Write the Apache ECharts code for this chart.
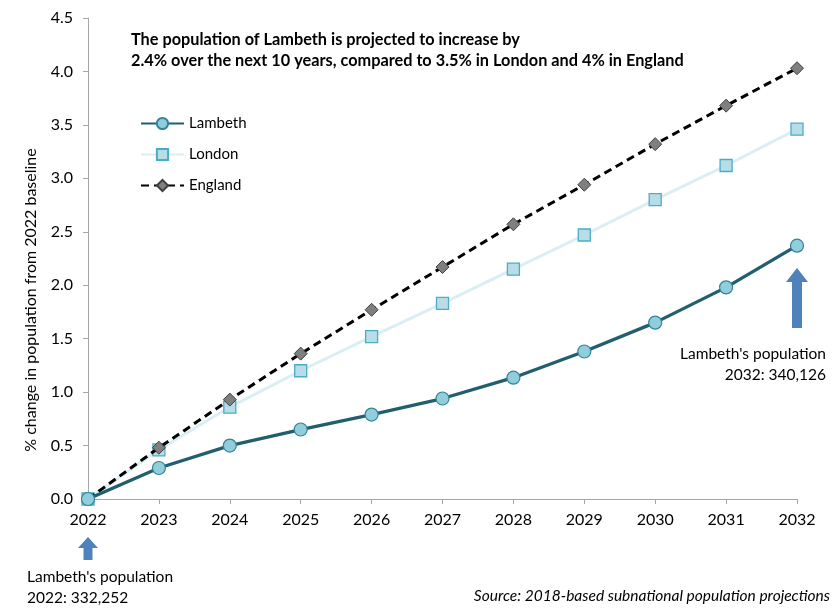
<!DOCTYPE html>
<html><head><meta charset="utf-8">
<script src="https://cdn.jsdelivr.net/npm/echarts@6/dist/echarts.min.js"></script>
<style>html,body{margin:0;padding:0;background:#fff}#c{width:838px;height:608px}</style>
</head><body><div id="c"></div>
<script>
const years = ['2022','2023','2024','2025','2026','2027','2028','2029','2030','2031','2032'];
const lambeth = [0, 0.29, 0.50, 0.65, 0.79, 0.94, 1.135, 1.38, 1.65, 1.98, 2.37];
const london  = [0, 0.46, 0.86, 1.20, 1.52, 1.83, 2.15, 2.47, 2.80, 3.12, 3.46];
const england = [0, 0.48, 0.93, 1.36, 1.77, 2.17, 2.57, 2.94, 3.32, 3.68, 4.03];
const yTicks = ['0.0','0.5','1.0','1.5','2.0','2.5','3.0','3.5','4.0','4.5'];
const titleText = 'The population of Lambeth is projected to increase by\n2.4% over the next 10 years, compared to 3.5% in London and 4% in England';
const yAxisName = '% change in population from 2022 baseline';

const FONT = 'Lato, "Noto Sans", sans-serif';
const chart = echarts.init(document.getElementById('c'));
const arrowColor = '#4F81BD';
function arrow(cx, top, headH, bottom, headW, shaftW){
  return {type:'polygon', shape:{points:[
    [cx, top],[cx+headW/2, top+headH],[cx+shaftW/2, top+headH],[cx+shaftW/2, bottom],
    [cx-shaftW/2, bottom],[cx-shaftW/2, top+headH],[cx-headW/2, top+headH]]},
    style:{fill:arrowColor}};
}
chart.setOption({
  animation:false,
  textStyle:{fontFamily:FONT},
  title:{text:titleText, left:126, top:24,
    textStyle:{fontFamily:FONT, fontSize:16.3, fontWeight:'bold', color:'#000', lineHeight:21}},
  legend:{orient:'vertical', left:135, top:111, itemWidth:43, itemHeight:14, itemGap:16,
    textStyle:{fontFamily:FONT, fontSize:15, color:'#000'},
    data:['Lambeth','London','England']},
  grid:{left:88, right:41, top:18, bottom:109},
  xAxis:{type:'category', data:years, boundaryGap:false,
    axisLine:{lineStyle:{color:'#A6A6A6', width:1}},
    axisTick:{show:true, alignWithLabel:true, length:5, lineStyle:{color:'#A6A6A6'}},
    axisLabel:{fontSize:16, color:'#000', margin:13, fontFamily:FONT},
    splitLine:{show:false}},
  yAxis:{type:'value', min:0, max:4.5, interval:0.5,
    axisLine:{show:true, lineStyle:{color:'#A6A6A6', width:1}},
    axisTick:{show:true, length:5, lineStyle:{color:'#A6A6A6'}},
    axisLabel:{fontSize:16, color:'#000', margin:15, fontFamily:FONT,
      formatter:(v)=>yTicks[Math.round(v/0.5)]},
    splitLine:{show:false}},
  series:[
    {name:'London', type:'line', data:london, symbol:'rect', symbolSize:12, z:2,
      lineStyle:{color:'#DAEEF3', width:3},
      itemStyle:{color:'#B7DEE8', borderColor:'#4BACC6', borderWidth:1.3}},
    {name:'England', type:'line', data:england, symbol:'diamond', symbolSize:13, z:3,
      lineStyle:{color:'#000', width:3, type:[8,5]},
      itemStyle:{color:'#7F7F7F', borderColor:'#3F3F3F', borderWidth:1}},
    {name:'Lambeth', type:'line', data:lambeth, symbol:'circle', symbolSize:13, z:4,
      lineStyle:{color:'#215F6E', width:3.3},
      itemStyle:{color:'#92CDDC', borderColor:'#31849B', borderWidth:1.2}}
  ],
  graphic:[
    {type:'text', x:31, y:300, rotation:Math.PI/2,
      style:{text:yAxisName, fontFamily:FONT, fontSize:16, fill:'#000', align:'center', verticalAlign:'middle'}},
    arrow(88, 537, 11, 560, 20, 9),
    arrow(797, 268, 14, 328, 22, 10),
    {type:'text', left:27, top:566, style:{text:"Lambeth's population\n2022: 332,252", fontFamily:FONT, fontSize:15.5, lineHeight:21, fill:'#000'}},
    {type:'text', x:826, y:343, style:{text:"Lambeth's population\n2032: 340,126", fontFamily:FONT, fontSize:15.5, lineHeight:21, fill:'#000', align:'right', verticalAlign:'top'}},
    {type:'text', right:8, top:588, style:{text:'Source: 2018-based subnational population projections', fontFamily:FONT, fontSize:15.5, fontStyle:'italic', fill:'#000'}}
  ]
});
</script></body></html>
